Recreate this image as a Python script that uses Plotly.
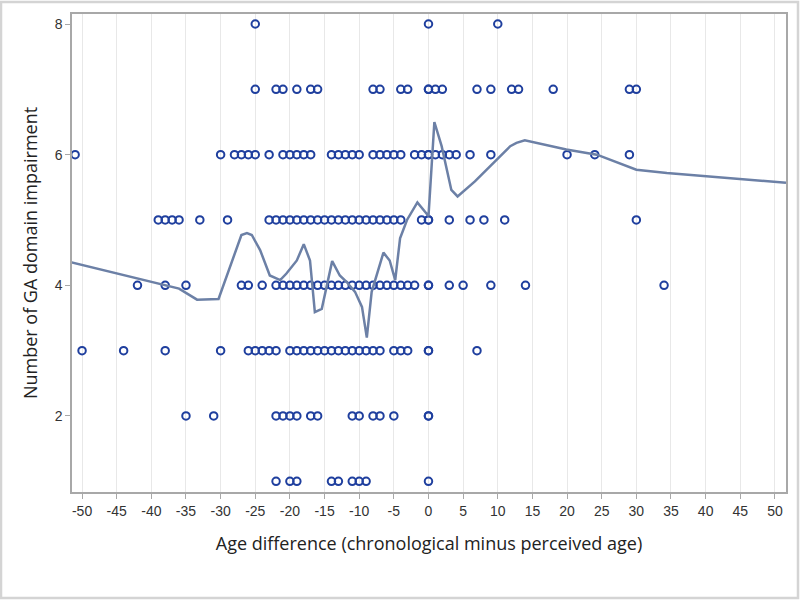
import plotly.graph_objects as go

# Observed data: impairment count rows and their age differences
x_y8 = [-25, 0, 10]
x_y7 = [-25, -22, -21, -19, -17, -16, -8, -7, -4, -3, 0, 0, 1, 2, 7, 9, 12, 13, 18, 29, 30]
x_y6 = [-51, -30, -28, -27, -26, -25, -23, -21, -20, -19, -18, -17, -14, -13, -12, -11, -10,
        -8, -7, -6, -5, -4, -2, -1, 0, 0, 1, 2, 3, 4, 6, 9, 20, 24, 29]
x_y5 = [-39, -38, -37, -36, -33, -29, -23, -22, -21, -20, -19, -18, -17, -16, -15, -14, -13,
        -12, -11, -10, -9, -8, -7, -6, -5, -4, -1, 0, 0, 3, 6, 8, 11, 30]
x_y4 = [-42, -38, -35, -27, -26, -24, -22, -21, -20, -19, -18, -17, -16, -15, -14, -13, -12,
        -11, -10, -9, -8, -7, -6, -5, -4, -3, -2, 0, 0, 3, 5, 9, 14, 34]
x_y3 = [-50, -44, -38, -30, -26, -25, -24, -23, -22, -20, -19, -18, -17, -16, -15, -14, -13,
        -12, -11, -10, -9, -8, -7, -5, -4, -3, 0, 0, 7]
x_y2 = [-35, -31, -22, -21, -20, -19, -17, -16, -11, -10, -8, -7, -5, 0, 0]
x_y1 = [-22, -20, -19, -14, -13, -11, -10, -9, 0]

rows = {8: x_y8, 7: x_y7, 6: x_y6, 5: x_y5, 4: x_y4, 3: x_y3, 2: x_y2, 1: x_y1}

# Smoothed fit curve
fit_x = [-51.5, -38, -36, -33.4, -30.3, -27, -26.2, -25.5, -24.3, -22.9, -21.4, -20.5, -19, -18,
         -17.1, -16.4, -15.4, -13.9, -12.8, -11.8, -10.6, -9.6, -8.9, -8.2, -7.5, -6.5, -5.6,
         -4.8, -4.1, -3.1, -1.6, 0, 0.85, 1.9, 3.3, 4.2, 6.7, 9.4, 11.8, 12.7, 13.9, 19.9, 24.3,
         30, 34.4, 51.6]
fit_y = [4.35, 4.0, 3.95, 3.78, 3.79, 4.77, 4.8, 4.77, 4.54, 4.15, 4.08, 4.18, 4.38, 4.63,
         4.38, 3.59, 3.64, 4.37, 4.15, 4.05, 3.9, 3.67, 3.2, 3.9, 4.15, 4.5, 4.38,
         4.08, 4.72, 5.0, 5.27, 5.06, 6.5, 6.13, 5.46, 5.36, 5.59, 5.87, 6.13, 6.18, 6.22, 6.08, 6.0,
         5.77, 5.72, 5.57]

xs, ys = [], []
for yv, xl in rows.items():
    xs += xl
    ys += [yv] * len(xl)

fig = go.Figure()
fig.add_trace(go.Scatter(
    x=xs, y=ys, mode="markers",
    marker=dict(symbol="circle-open", size=7.5, color="#1f3f9e", line=dict(width=2, color="#1f3f9e")),
    showlegend=False, cliponaxis=False))
fig.add_trace(go.Scatter(
    x=fit_x, y=fit_y, mode="lines",
    line=dict(color="#6c80a6", width=2.5), showlegend=False))

axis_font = dict(family="Liberation Sans, Arial, sans-serif", size=14, color="#333333")
title_font = dict(family="Open Sans, Noto Sans, sans-serif", size=18, color="#222222")

fig.update_layout(
    width=800, height=600,
    margin=dict(l=72, r=14, t=14, b=108),
    paper_bgcolor="white", plot_bgcolor="white",
    xaxis=dict(
        range=[-51.45, 51.6], tickmode="array",
        tickvals=list(range(-50, 51, 5)), ticktext=[str(v) for v in range(-50, 51, 5)],
        showgrid=True, gridcolor="#e8e8e8", gridwidth=1, zeroline=False,
        showline=True, mirror=True, linecolor="#a8a8a8", linewidth=1.5,
        ticks="outside", ticklen=5, tickcolor="#a8a8a8", tickfont=axis_font,
        title=dict(text="Age difference (chronological minus perceived age)", font=title_font, standoff=20)),
    yaxis=dict(
        range=[0.836, 8.153], tickmode="array", tickvals=[2, 4, 6, 8],
        showgrid=False, zeroline=False,
        showline=True, mirror=True, linecolor="#a8a8a8", linewidth=1.5,
        ticks="outside", ticklen=5, tickcolor="#a8a8a8", tickfont=axis_font,
        title=dict(text="Number of GA domain impairment", font=title_font, standoff=12)),
    shapes=[dict(type="rect", xref="paper", yref="paper",
                 x0=-71 / 714, x1=1 + 12 / 714, y0=-106 / 478, y1=1 + 12 / 478,
                 line=dict(color="#d4d4d4", width=2.5), fillcolor="rgba(0,0,0,0)", layer="below")],
)

fig.write_html("out.html", config={"displayModeBar": False},
               post_script="document.body.style.margin='0';")
